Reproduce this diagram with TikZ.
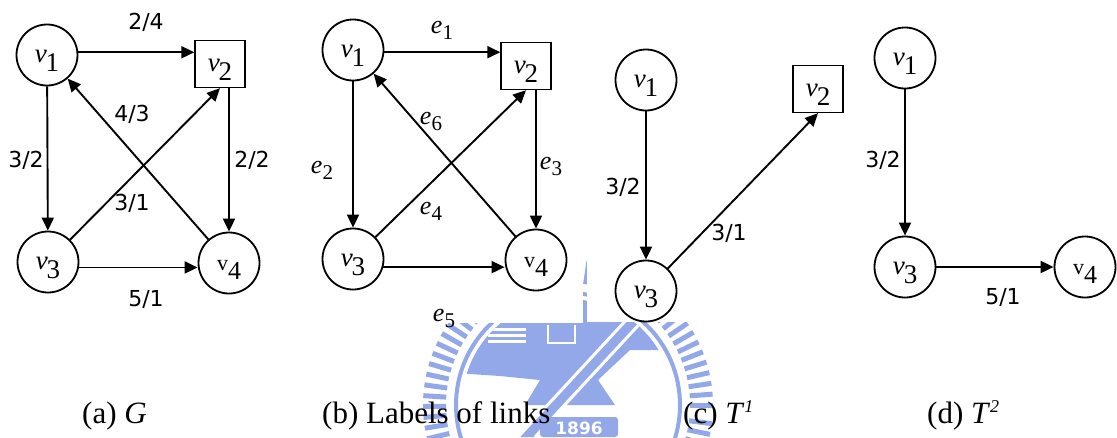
\documentclass[tikz,border=0pt]{standalone}
\usepackage{fontspec}
\setmainfont{Liberation Serif}
\newfontfamily\lblfont{DejaVu Sans}
\usetikzlibrary{arrows.meta,calc}

% vertex label: nu with a large, lowered index
\newcommand\nulab[1]{\raisebox{-7pt}[0pt][0pt]{\fontsize{27}{27}\selectfont{\itshape ν}\kern-1pt\raisebox{-9pt}{#1}}}
\newcommand\vlab[1]{\raisebox{-7pt}[0pt][0pt]{\fontsize{22}{22}\selectfont v\raisebox{-9pt}{\fontsize{26}{26}\selectfont #1}}}
% link name e_i
\newcommand\elab[1]{{\fontsize{26}{26}\selectfont\itshape e}\raisebox{-6pt}{\fontsize{21}{21}\selectfont #1}}

\definecolor{wmblue}{RGB}{146,168,232}

\tikzset{
  vtx/.style={circle, draw, line width=1.8pt, minimum size=61pt, inner sep=0pt},
  sq/.style={rectangle, draw, line width=1.3pt, minimum width=50pt, minimum height=47pt, inner sep=0pt},
  link/.style={line width=1.9pt, -{Triangle[length=13pt,width=12pt]}},
  wt/.style={font=\lblfont\fontsize{22}{22}\selectfont, inner sep=0pt},
  ename/.style={inner sep=0pt},
  captext/.style={font=\fontsize{31}{31}\selectfont, anchor=base west, inner sep=0pt},
  wm/.style={wmblue}
}

\begin{document}
\begin{tikzpicture}[x=1pt, y=-1pt]
\useasboundingbox (0,0) rectangle (1117,437);
\fill[white] (0,0) rectangle (1117,437);

% ---------- background seal ----------
\coordinate (C) at (568,405);
\begin{scope}[shift={(C)}]
  \foreach \a in {0,4.3,...,355}{
    \draw[wm, line width=5pt] (\a:122pt) -- (\a:145pt);
  }
  \draw[wm, line width=4pt] (0,0) circle[radius=112pt];
\end{scope}
\begin{scope}
  \clip (C) circle[radius=106pt];
  \fill[wm] (440,260) -- (700,260) -- (700,350) -- (630,350) -- (598,380)
            -- (615,405) -- (525,405) -- (540,380) -- (500,376) -- (440,372) -- cycle;
  \fill[wm] (628,323) -- (645,323) -- (535,437) -- (518,437) -- cycle;
  \draw[white, line width=3pt] (628,318) -- (518,437);
  \draw[white, line width=3pt] (645,318) -- (535,437);
  \foreach \yy in {329,335,341}{ \draw[white, line width=3pt] (488,\yy) -- (526,\yy); }
  \draw[white, line width=2.5pt] (548,325) -- (548,343) -- (575,343) -- (575,325);
  \draw[white, line width=2pt] (652,350) -- (652,388);
  \draw[white, line width=2pt] (652,394) circle[radius=5pt];
\end{scope}
\fill[wm, rounded corners=3pt] (540,417) rectangle (618,437);
\node[font=\lblfont\bfseries\fontsize{17}{17}\selectfont, text=white, inner sep=0pt] (yr) at (579,428) {1896};

% opaque figure areas
\fill[white] (0,0) rectangle (583,323);
\fill[white] (587,0) rectangle (1117,322);

% ---------- (a) G ----------
\node[vtx] (a1) at (47,55) {\nulab{1}};
\node[sq]  (a2) at (220,64) {\nulab{2}};
\node[vtx] (a3) at (48,262) {\nulab{3}};
\node[vtx] (a4) at (229,263) {\vlab{4}};
\draw[link] (a1.5) -- (a1.5 -| a2.west);
\draw[link] (a1) -- (a3);
\draw[link] (a2.south -| a4) -- (a4);
\draw[link] (a3.-10) -- (a3.-10 -| a4.west);
\draw[link] (a3) -- (a2.south);
\draw[link] (a4) -- (a1);
\node[wt] (wa12) at (146,22)  {2/4};
\node[wt] (wa41) at (132,114) {4/3};
\node[wt] (wa13) at (26,160)  {3/2};
\node[wt] (wa24) at (252,160) {2/2};
\node[wt] (wa32) at (132,203) {3/1};
\node[wt] (wa34) at (146,299) {5/1};

% ---------- (b) labels of links ----------
\node[vtx] (b1) at (353,50) {\nulab{1}};
\node[sq]  (b2) at (526,66) {\nulab{2}};
\node[vtx] (b3) at (353,259) {\nulab{3}};
\node[vtx] (b4) at (536,260) {\vlab{4}};
\draw[link] (b1.-4) -- (b1.-4 -| b2.west);
\draw[link] (b1) -- (b3);
\draw[link] (b2.south -| b4) -- (b4);
\draw[link] (b3.-15) -- (b3.-15 -| b4.west);
\draw[link] (b3) -- (b2.south);
\draw[link] (b4) -- (b1);
\node[ename] (e1) at (442,30)  {\elab{1}};
\node[ename] (e6) at (431,121) {\elab{6}};
\node[ename] (e2) at (322,170) {\elab{2}};
\node[ename] (e3) at (551,166) {\elab{3}};
\node[ename] (e4) at (431,211) {\elab{4}};
\node[ename] (e5) at (444,318) {\elab{5}};

% ---------- (c) T^1 ----------
\node[vtx] (c1) at (646,80) {\nulab{1}};
\node[sq]  (c2) at (818,89) {\nulab{2}};
\node[vtx] (c3) at (646,291) {\nulab{3}};
\draw[link] (c1) -- (c3);
\draw[link] (c3) -- (c2.south);
\node[wt] (wc13) at (623,187) {3/2};
\node[wt] (wc32) at (729,233) {3/1};

% ---------- (d) T^2 ----------
\node[vtx] (d1) at (905,58) {\nulab{1}};
\node[vtx] (d3) at (905,267) {\nulab{3}};
\node[vtx] (d4) at (1085,267) {\vlab{4}};
\draw[link] (d1) -- (d3);
\draw[link] (d3) -- (d4);
\node[wt] (wd13) at (883,160) {3/2};
\node[wt] (wd34) at (1003,297) {5/1};

% ---------- captions ----------
\node[captext] (capa) at (82,423)  {(a) \textit{G}};
\node[captext] (capb) at (322,423) {(b) Labels of links};
\node[captext] (capc) at (683,423) {(c) \textit{T}\raisebox{11pt}{\fontsize{18}{18}\selectfont\itshape 1}};
\node[captext] (capd) at (927,423) {(d) \textit{T}\raisebox{11pt}{\fontsize{18}{18}\selectfont\itshape 2}};
\end{tikzpicture}
\end{document}
